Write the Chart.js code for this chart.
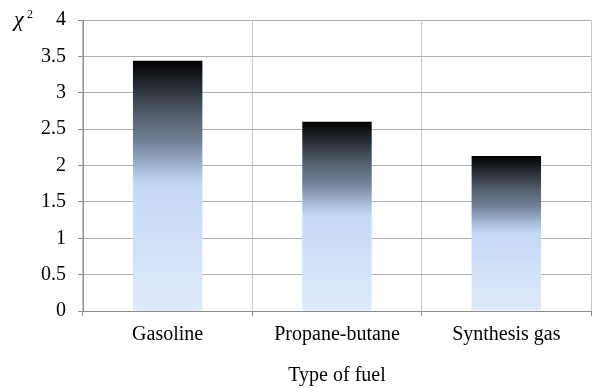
<!DOCTYPE html>
<html>
<head>
<meta charset="utf-8">
<script src="https://cdn.jsdelivr.net/npm/chart.js@4/dist/chart.umd.min.js"></script>
<style>
  html, body { margin: 0; padding: 0; background: #ffffff; }
  #wrap { width: 592px; height: 388px; }
</style>
</head>
<body>
<div id="wrap"><canvas id="c" width="592" height="388"></canvas></div>
<script>
const fuelTypes = ['Gasoline', 'Propane-butane', 'Synthesis gas'];
const chiSquared = [3.44, 2.6, 2.13];
const yTicks = [0, 0.5, 1, 1.5, 2, 2.5, 3, 3.5, 4];

const FONT = "Liberation Serif";

// light blue at the base, darkening to black at the top of each bar
function barGradient(ctx) {
  const chart = ctx.chart;
  if (!chart.chartArea || ctx.type !== 'data') return '#c4d9f6';
  const ys = chart.scales.y;
  const base = ys.getPixelForValue(0);
  const top = ys.getPixelForValue(ctx.parsed.y);
  const g = chart.ctx.createLinearGradient(0, base, 0, top);
  g.addColorStop(0, '#dfeafa');
  g.addColorStop(0.5, '#c4d9f6');
  g.addColorStop(0.56, '#a9bfdc');
  g.addColorStop(0.68, '#707f95');
  g.addColorStop(0.78, '#556170');
  g.addColorStop(0.9, '#272c33');
  g.addColorStop(1, '#000000');
  return g;
}

// axis symbol χ² at the top of the value axis
const chiLabel = {
  id: 'chiLabel',
  afterDraw(chart) {
    const c = chart.ctx;
    const y = chart.scales.y.getPixelForValue(4);
    c.save();
    c.fillStyle = '#000';
    c.textBaseline = 'alphabetic';
    c.textAlign = 'left';
    c.font = "italic 22px " + FONT;
    c.fillText('\u03C7', 14, y + 6);
    c.font = "12px " + FONT;
    c.fillText('2', 27, y - 2);
    c.restore();
  }
};

new Chart(document.getElementById('c'), {
  type: 'bar',
  data: {
    labels: fuelTypes,
    datasets: [{
      data: chiSquared,
      backgroundColor: barGradient,
      borderWidth: 0,
      barPercentage: 0.41,
      categoryPercentage: 1.0
    }]
  },
  options: {
    responsive: false,
    animation: false,
    devicePixelRatio: 1,
    layout: { padding: { top: 20, right: 1, left: 0, bottom: 0 } },
    plugins: { legend: { display: false }, tooltip: { enabled: false } },
    scales: {
      x: {
        grid: { color: '#c8c8c8', lineWidth: 1, tickLength: 5, tickColor: '#8c8c8c', offset: true },
        border: { color: '#8c8c8c', width: 1 },
        ticks: { color: '#000', font: { family: FONT, size: 20 }, padding: 7 },
        title: { display: true, text: 'Type of fuel', color: '#000', font: { family: FONT, size: 20 }, padding: { top: 0, bottom: 0 } },
        afterFit(s) { s.height = 77; s.paddingLeft = 0; s.paddingRight = 0; }
      },
      y: {
        min: 0, max: 4,
        afterBuildTicks(s) { s.ticks = yTicks.map(v => ({ value: v })); },
        grid: { color: '#b0b0b0', lineWidth: 1, tickLength: 5, tickColor: '#8c8c8c' },
        border: { color: '#8c8c8c', width: 1 },
        ticks: { color: '#000', font: { family: FONT, size: 20 }, padding: 12, callback: v => String(v) },
        afterFit(s) { s.width = 83; s.paddingTop = 0; s.paddingBottom = 0; }
      }
    }
  },
  plugins: [chiLabel]
});
</script>
</body>
</html>
